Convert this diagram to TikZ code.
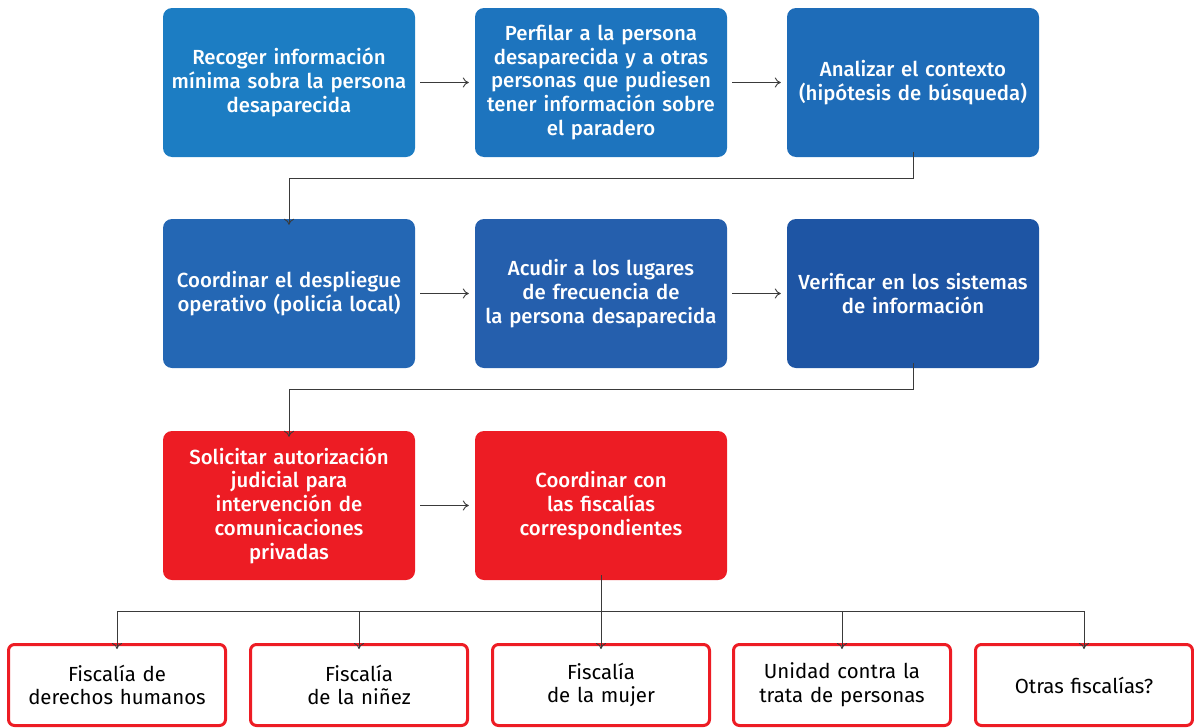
\documentclass[tikz,border=0pt]{standalone}
\usepackage{fontspec}
\setmainfont{Fira Sans}[BoldFont={Fira Sans Medium}]
\usetikzlibrary{arrows.meta}
\definecolor{bA}{HTML}{1C7DC3}
\definecolor{bB}{HTML}{1D74BE}
\definecolor{bC}{HTML}{1E6CB8}
\definecolor{bD}{HTML}{2467B4}
\definecolor{bE}{HTML}{255FAD}
\definecolor{bF}{HTML}{1E55A4}
\definecolor{rd}{HTML}{ED1C24}
\definecolor{ln}{HTML}{3A3A3A}
\tikzset{
  stepbox/.style={rounded corners=9pt, minimum width=252pt, minimum height=149pt, text width=246pt, align=center, text=white, font=\fontsize{20.4}{23.7}\selectfont\bfseries, inner sep=0pt},
  fisc/.style={draw=rd, line width=3pt, rounded corners=6pt, minimum width=217pt, minimum height=81pt, text width=210pt, align=center, text=black, font=\fontsize{20.4}{23.7}\selectfont, inner sep=0pt},
  conn/.style={draw=ln, line width=0.9pt, -{To[length=6pt,width=10pt]}},
  plain/.style={draw=ln, line width=0.9pt}
}
\begin{document}
\begin{tikzpicture}[x=1pt,y=-1pt]
\useasboundingbox (0,0) rectangle (1194,728);
\node[stepbox, fill=bA] (a1) at (289,82.5) {Recoger información\\mínima sobra la persona\\desaparecida};
\node[stepbox, fill=bB] (a2) at (601,82.5) {Perfilar a la persona\\desaparecida y a otras\\personas que pudiesen\\tener información sobre\\el paradero};
\node[stepbox, fill=bC] (a3) at (913,82.5) {Analizar el contexto\\(hipótesis de búsqueda)};
\node[stepbox, fill=bD] (b1) at (289,293.5) {Coordinar el despliegue\\operativo (policía local)};
\node[stepbox, fill=bE] (b2) at (601,293.5) {Acudir a los lugares\\de frecuencia de\\la persona desaparecida};
\node[stepbox, fill=bF] (b3) at (913,293.5) {Verificar en los sistemas\\de información};
\node[stepbox, fill=rd] (c1) at (289,505.5) {Solicitar autorización\\judicial para\\intervención de\\comunicaciones\\privadas};
\node[stepbox, fill=rd] (c2) at (601,505.5) {Coordinar con\\las fiscalías\\correspondientes};
\node[fisc] (f1) at (117,685) {Fiscalía de\\derechos humanos};
\node[fisc] (f2) at (359,685) {Fiscalía\\de la niñez};
\node[fisc] (f3) at (601,685) {Fiscalía\\de la mujer};
\node[fisc] (f4) at (842,685) {Unidad contra la\\trata de personas};
\node[fisc] (f5) at (1084,685) {Otras fiscalías?};
\draw[conn] ([xshift=5pt]a1.east) -- ([xshift=-6pt]a2.west);
\draw[conn] ([xshift=5pt]a2.east) -- ([xshift=-6pt]a3.west);
\draw[conn] ([xshift=5pt]b1.east) -- ([xshift=-6pt]b2.west);
\draw[conn] ([xshift=5pt]b2.east) -- ([xshift=-6pt]b3.west);
\draw[conn] ([xshift=5pt]c1.east) -- ([xshift=-6pt]c2.west);
\draw[conn] ([yshift=5pt]a3.south) -- ++(0,26) -| ([yshift=-6pt]b1.north);
\draw[conn] ([yshift=5pt]b3.south) -- ++(0,26) -| ([yshift=-6pt]c1.north);
\coordinate (hb) at (601,611);
\draw[plain] ([yshift=5pt]c2.south) -- (hb);
\draw[plain] (f1.north |- hb) -- (f5.north |- hb);
\foreach \f in {f1,f2,f3,f4,f5} \draw[conn] (\f.north |- hb) -- ([yshift=-6pt]\f.north);
\end{tikzpicture}
\end{document}
